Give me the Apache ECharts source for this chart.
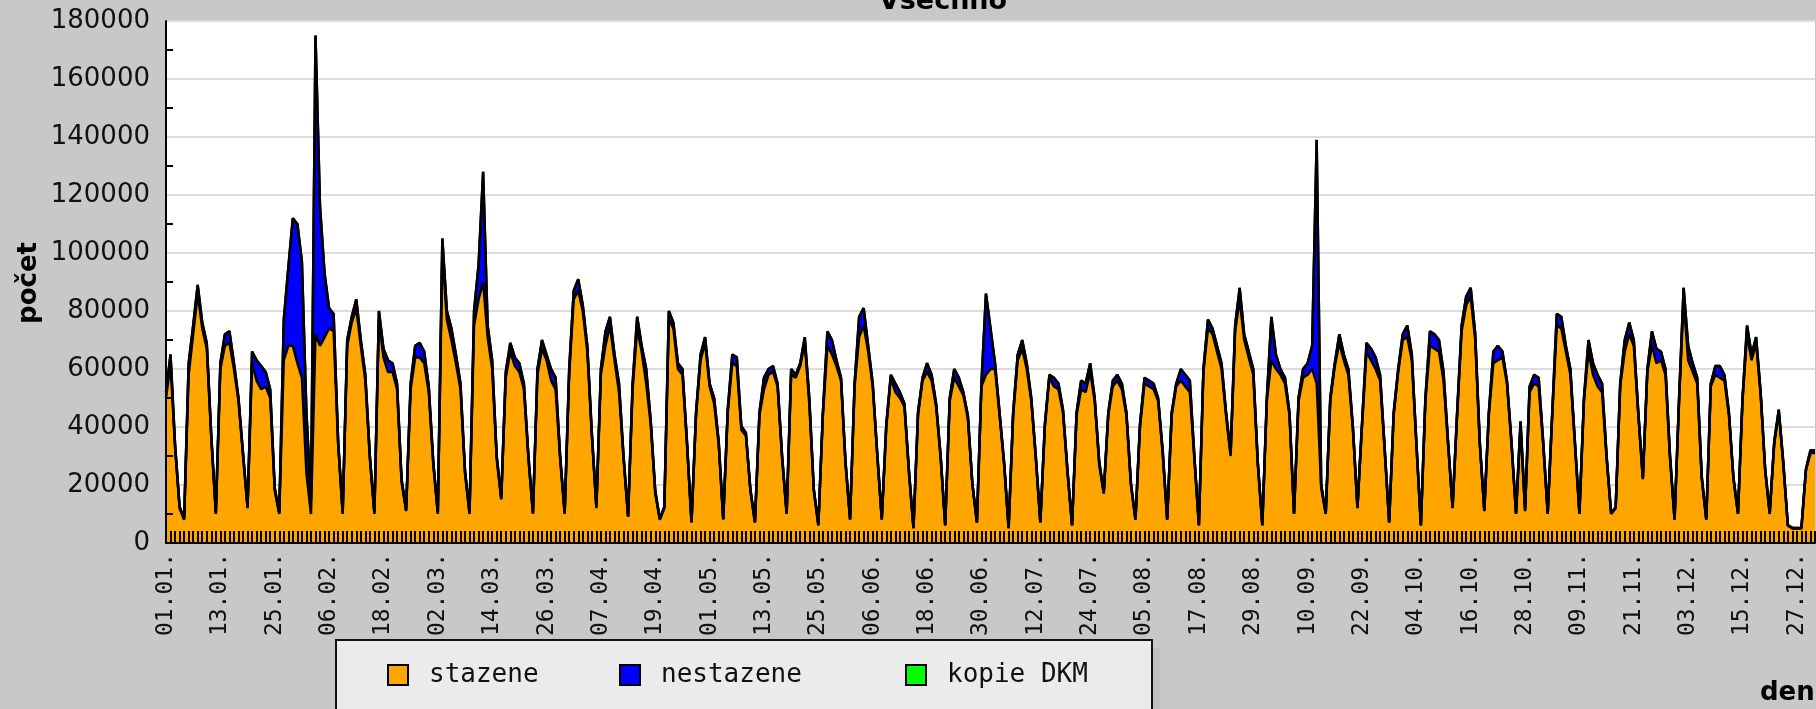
<!DOCTYPE html>
<html>
<head>
<meta charset="utf-8">
<script src="https://cdn.jsdelivr.net/npm/echarts@6/dist/echarts.min.js"></script>
<style>
  html, body { margin: 0; padding: 0; background: #c8c8c8; }
  #chart { width: 1816px; height: 709px; }
</style>
</head>
<body>
<div id="chart"></div>
<script>
// dny roku (nepřestupný rok, začíná středou 01.01.)
var monthLengths = [31, 28, 31, 30, 31, 30, 31, 31, 30, 31, 30, 31];
var days = [];
monthLengths.forEach(function (len, m) {
    for (var d = 1; d <= len; d++) {
        days.push((d < 10 ? '0' : '') + d + '.' + (m < 9 ? '0' : '') + (m + 1) + '.');
    }
});

// stazene - po týdnech (Po..Ne), první řádek 01.01.-05.01.
var stazene = [
    50000, 62000, 33000, 12000, 8000,
    58000, 72000, 86000, 74000, 67000, 36000, 10000,
    60000, 68000, 69000, 60000, 49000, 30000, 12000,
    62000, 56000, 53000, 54000, 50000, 18000, 10000,
    63000, 68000, 68000, 62000, 57000, 24000, 10000,
    72000, 68000, 71000, 74000, 73000, 34000, 10000,
    68000, 76000, 81000, 68000, 56000, 29000, 10000,
    77000, 64000, 59000, 59000, 53000, 21000, 11000,
    53000, 64000, 64000, 62000, 52000, 27000, 10000,
    100000, 77000, 70000, 62000, 53000, 24000, 10000,
    75000, 84000, 90000, 71000, 60000, 29000, 15000,
    57000, 66000, 61000, 59000, 53000, 29000, 10000,
    58000, 67000, 63000, 56000, 53000, 29000, 10000,
    58000, 84000, 87000, 80000, 66000, 37000, 12000,
    58000, 68000, 75000, 63000, 52000, 29000, 9000,
    53000, 74000, 66000, 55000, 41000, 17000, 8000,
    12000, 77000, 74000, 60000, 58000, 34000, 7000,
    44000, 63000, 69000, 54000, 48000, 34000, 8000,
    45000, 62000, 61000, 39000, 37000, 18000, 7000,
    44000, 53000, 58000, 59000, 54000, 29000, 10000,
    58000, 57000, 61000, 69000, 48000, 18000, 6000,
    44000, 68000, 65000, 61000, 56000, 27000, 8000,
    54000, 71000, 75000, 66000, 54000, 30000, 8000,
    40000, 57000, 52000, 50000, 47000, 24000, 5000,
    44000, 56000, 59000, 56000, 47000, 29000, 6000,
    49000, 57000, 54000, 51000, 43000, 20000, 7000,
    54000, 58000, 60000, 60000, 44000, 27000, 5000,
    44000, 63000, 67000, 60000, 49000, 29000, 7000,
    40000, 57000, 54000, 53000, 45000, 24000, 6000,
    44000, 53000, 52000, 59000, 49000, 27000, 17000,
    44000, 54000, 56000, 53000, 44000, 20000, 8000,
    40000, 55000, 54000, 53000, 49000, 31000, 8000,
    44000, 54000, 56000, 54000, 52000, 29000, 6000,
    59000, 74000, 72000, 66000, 60000, 44000, 30000,
    73000, 84000, 70000, 64000, 58000, 27000, 6000,
    49000, 63000, 60000, 58000, 55000, 44000, 10000,
    49000, 57000, 58000, 60000, 55000, 19000, 10000,
    49000, 61000, 69000, 63000, 58000, 39000, 12000,
    40000, 66000, 63000, 60000, 56000, 32000, 7000,
    44000, 59000, 70000, 71000, 63000, 34000, 6000,
    49000, 68000, 67000, 66000, 56000, 34000, 12000,
    44000, 73000, 82000, 85000, 70000, 34000, 11000,
    44000, 62000, 63000, 64000, 55000, 34000, 10000,
    40000, 11000, 52000, 55000, 54000, 34000, 10000,
    44000, 75000, 74000, 66000, 58000, 34000, 10000,
    49000, 66000, 58000, 54000, 52000, 29000, 10000,
    12000, 54000, 66000, 72000, 68000, 44000, 22000,
    59000, 68000, 62000, 63000, 58000, 29000, 8000,
    49000, 84000, 63000, 59000, 55000, 22000, 8000,
    54000, 58000, 57000, 56000, 44000, 22000, 10000,
    49000, 72000, 63000, 69000, 51000, 25000, 10000,
    34000, 45000, 27000, 6000, 5000, 5000, 5000,
    25000, 31000, 31000
];

var nestazene = [
    2000, 3000, 1000, 500, 500,
    4000, 3000, 3000, 2000, 2000, 1000, 500,
    2000, 4000, 4000, 2000, 1000, 1000, 500,
    4000, 7000, 8000, 5000, 3000, 1000, 500,
    14000, 27000, 44000, 48000, 40000, 21000, 5000,
    103000, 48000, 22000, 7000, 6000, 1000, 500,
    2000, 2000, 3000, 2000, 2000, 1000, 500,
    3000, 3000, 4000, 3000, 2000, 1000, 500,
    2000, 4000, 5000, 4000, 2000, 1000, 500,
    5000, 3000, 4000, 3000, 2000, 1000, 500,
    5000, 12000, 38000, 4000, 3000, 1000, 500,
    2000, 3000, 3000, 3000, 2000, 1000, 500,
    2000, 3000, 2000, 4000, 4000, 1000, 500,
    2000, 3000, 4000, 2000, 2000, 1000, 500,
    2000, 5000, 3000, 2000, 3000, 1000, 300,
    2000, 4000, 2000, 5000, 1000, 1000, 300,
    500, 3000, 2000, 2000, 2000, 1000, 300,
    1000, 2000, 2000, 1000, 2000, 1000, 300,
    1000, 3000, 3000, 1000, 1000, 500, 300,
    1000, 4000, 2000, 2000, 1000, 1000, 300,
    2000, 1000, 1000, 2000, 2000, 500, 300,
    1000, 5000, 5000, 2000, 1000, 1000, 300,
    1000, 7000, 6000, 2000, 1000, 1000, 300,
    1000, 1000, 3000, 2000, 1000, 1000, 200,
    1000, 1000, 3000, 2000, 1000, 1000, 200,
    1000, 3000, 3000, 1000, 1000, 500, 200,
    1000, 28000, 14000, 2000, 1000, 1000, 200,
    1000, 2000, 3000, 2000, 1000, 1000, 200,
    1000, 1000, 3000, 2000, 1000, 1000, 200,
    1000, 3000, 3000, 3000, 1000, 1000, 500,
    1000, 2000, 2000, 2000, 1000, 500, 200,
    1000, 2000, 2000, 2000, 1000, 1000, 200,
    1000, 1000, 4000, 4000, 4000, 1000, 200,
    1000, 3000, 2000, 2000, 2000, 1000, 1000,
    2000, 4000, 2000, 2000, 2000, 1000, 200,
    1000, 15000, 5000, 2000, 2000, 1000, 300,
    1000, 3000, 4000, 8000, 84000, 1000, 300,
    1000, 1000, 3000, 2000, 2000, 1000, 300,
    1000, 3000, 4000, 4000, 2000, 1000, 200,
    1000, 1000, 2000, 4000, 2000, 1000, 200,
    1000, 5000, 5000, 4000, 3000, 1000, 300,
    1000, 2000, 3000, 3000, 2000, 1000, 300,
    1000, 4000, 5000, 2000, 1000, 1000, 300,
    2000, 500, 2000, 3000, 3000, 1000, 300,
    1000, 4000, 4000, 2000, 2000, 1000, 300,
    1000, 4000, 4000, 4000, 3000, 1000, 300,
    300, 1000, 4000, 4000, 2000, 1000, 500,
    1000, 5000, 5000, 3000, 2000, 1000, 200,
    1000, 4000, 5000, 3000, 2000, 1000, 200,
    1000, 3000, 4000, 2000, 1000, 500, 300,
    1000, 3000, 2000, 2000, 1000, 500, 300,
    1000, 1000, 1000, 200, 200, 200, 200,
    500, 1000, 1000
];

var kopieDKM = [
    0, 0, 0, 0, 0,
    0, 0, 0, 0, 0, 0, 0,  0, 0, 0, 0, 0, 0, 0,  0, 0, 0, 0, 0, 0, 0,  0, 0, 0, 0, 0, 0, 0,
    0, 0, 0, 0, 0, 0, 0,  0, 0, 0, 0, 0, 0, 0,  0, 0, 0, 0, 0, 0, 0,  0, 0, 0, 0, 0, 0, 0,
    0, 0, 0, 0, 0, 0, 0,  0, 0, 0, 0, 0, 0, 0,  0, 0, 0, 0, 0, 0, 0,  0, 0, 0, 0, 0, 0, 0,
    0, 0, 0, 0, 0, 0, 0,  0, 0, 0, 0, 0, 0, 0,  0, 0, 0, 0, 0, 0, 0,  0, 0, 0, 0, 0, 0, 0,
    0, 0, 0, 0, 0, 0, 0,  0, 0, 0, 500, 0, 0, 0,  0, 0, 0, 0, 0, 0, 0,  0, 0, 0, 0, 0, 0, 0,
    0, 0, 0, 0, 0, 0, 0,  0, 0, 0, 0, 0, 0, 0,  0, 0, 0, 0, 0, 0, 0,  0, 0, 0, 0, 0, 0, 0,
    0, 0, 0, 0, 0, 0, 0,  0, 0, 0, 0, 0, 0, 0,  0, 0, 0, 0, 0, 0, 0,  0, 0, 0, 0, 0, 0, 0,
    0, 0, 0, 0, 0, 0, 0,  0, 0, 0, 0, 0, 0, 0,  0, 0, 0, 0, 0, 0, 0,  0, 0, 0, 0, 0, 0, 0,
    0, 0, 0, 0, 0, 0, 0,  0, 0, 0, 0, 0, 0, 0,  0, 0, 0, 0, 0, 0, 0,  0, 0, 0, 0, 0, 0, 0,
    0, 0, 0, 0, 0, 0, 0,  0, 0, 0, 0, 0, 0, 0,  0, 0, 0, 0, 0, 0, 0,  0, 0, 0, 0, 0, 0, 0,
    0, 0, 0, 0, 0, 0, 0,  0, 0, 0, 0, 0, 0, 0,  0, 0, 0, 0, 0, 0, 0,  0, 0, 0, 0, 0, 0, 0,
    0, 0, 0, 0, 0, 0, 0,  0, 0, 0, 0, 0, 0, 0,  0, 0, 0, 0, 0, 0, 0,  0, 0, 0, 0, 0, 0, 0,
    0, 0, 0, 0, 0, 0, 0,  0, 0, 0, 0, 0, 0, 0,  0, 0, 0, 0, 0, 0, 0,
    0, 0, 0
];

var seriesNames = ['stazene', 'nestazene', 'kopie DKM'];
var seriesColors = ['#ffa500', '#0000ff', '#00ff00'];
var seriesData = [stazene, nestazene, kopieDKM];
var legendLeft = [382, 614, 900];

var myChart = echarts.init(document.getElementById('chart'));

var option = {
    backgroundColor: '#c8c8c8',
    animation: false,
    title: {
        text: 'Všechno',
        left: 938,
        textAlign: 'center',
        top: -17,
        textStyle: { fontFamily: 'DejaVu Sans', fontWeight: 'bold', fontSize: 27, color: '#000' }
    },
    legend: seriesNames.map(function (name, i) {
        return {
            left: legendLeft[i],
            top: 657,
            itemWidth: 20,
            itemHeight: 20,
            icon: 'rect',
            data: [{ name: name, itemStyle: { color: seriesColors[i], borderColor: '#000', borderWidth: 2 } }],
            textStyle: { fontFamily: 'DejaVu Sans Mono', fontSize: 26, color: '#111', padding: [0, 0, 0, 16] }
        };
    }),
    grid: {
        left: 166,
        top: 21,
        width: 1649,
        height: 522,
        show: true,
        backgroundColor: '#ffffff',
        borderWidth: 0
    },
    xAxis: {
        type: 'category',
        data: days,
        boundaryGap: false,
        z: 5,
        axisLine: { lineStyle: { color: '#000', width: 2 } },
        axisTick: { inside: true, length: 12, interval: 0, lineStyle: { color: '#000', width: 2 } },
        axisLabel: {
            interval: 11,
            rotate: 90,
            margin: 10,
            fontFamily: 'DejaVu Sans Mono',
            fontSize: 23,
            color: '#111'
        },
        splitLine: { show: false }
    },
    yAxis: [{
        // mřížka pod plochami
        type: 'value',
        min: 0,
        max: 180000,
        interval: 20000,
        axisLine: { show: false },
        axisTick: { show: false },
        axisLabel: { show: false },
        splitLine: { lineStyle: { color: '#dcdcdc', width: 2 } }
    }, {
        // osa s popisky a značkami nad plochami
        type: 'value',
        position: 'left',
        min: 0,
        max: 180000,
        interval: 20000,
        z: 5,
        axisLine: { show: true, lineStyle: { color: '#000', width: 2 } },
        axisTick: { inside: true, length: 12, lineStyle: { color: '#000', width: 2 } },
        minorTick: { show: true, splitNumber: 2, length: 7, lineStyle: { color: '#000', width: 2 } },
        axisLabel: {
            margin: 16,
            fontFamily: 'DejaVu Sans',
            fontSize: 26,
            color: '#111',
            formatter: function (v) { return String(v); }
        },
        splitLine: { show: false }
    }],
    graphic: [
        {
            type: 'rect',
            shape: { x: 344, y: 648, width: 816, height: 100 },
            style: { fill: '#bdbdbd' },
            z: -1
        },
        {
            type: 'rect',
            shape: { x: 336, y: 640, width: 816, height: 100 },
            style: { fill: '#ebebeb', stroke: '#111', lineWidth: 2 },
            z: 0
        },
        {
            type: 'text',
            x: 29,
            y: 283,
            rotation: Math.PI / 2,
            style: {
                text: 'počet',
                fontFamily: 'DejaVu Sans',
                fontWeight: 'bold',
                fontSize: 26,
                fill: '#000',
                textAlign: 'center',
                textVerticalAlign: 'middle'
            }
        },
        {
            type: 'text',
            left: 1760,
            top: 680,
            style: {
                text: 'den',
                fontFamily: 'DejaVu Sans',
                fontWeight: 'bold',
                fontSize: 26,
                fill: '#000'
            }
        }
    ],
    series: seriesNames.map(function (name, i) {
        return {
            name: name,
            type: 'line',
            stack: 'vse',
            data: seriesData[i],
            symbol: 'none',
            color: seriesColors[i],
            lineStyle: { color: '#000', width: 2.5 },
            areaStyle: { color: seriesColors[i], opacity: 1 },
            z: 2
        };
    })
};

myChart.setOption(option);
</script>
</body>
</html>
